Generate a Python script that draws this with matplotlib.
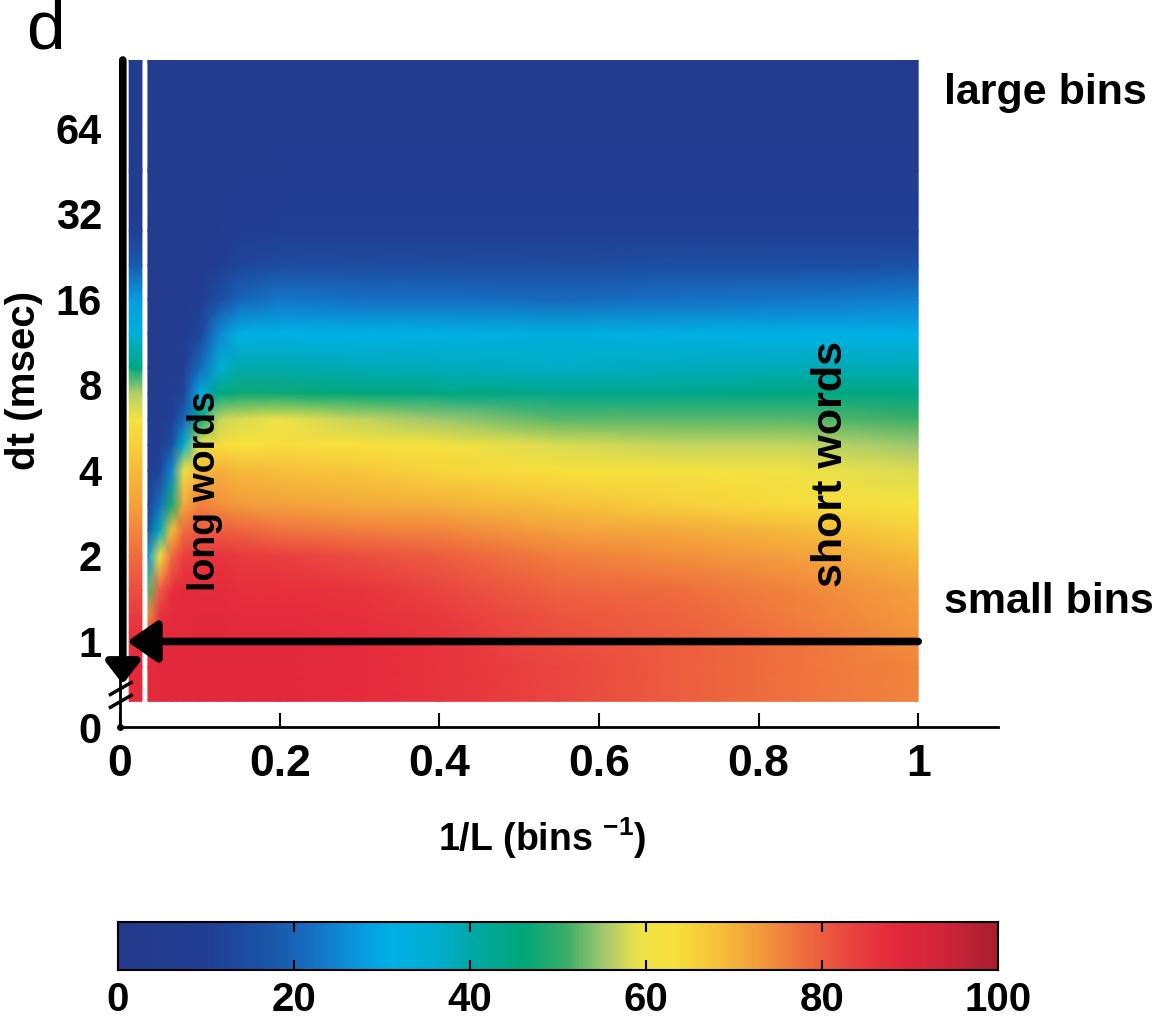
import numpy as np
import matplotlib
matplotlib.use("Agg")
import matplotlib.pyplot as plt
from matplotlib.colors import LinearSegmentedColormap

plt.rcParams['font.family'] = ['Liberation Sans', 'DejaVu Sans']
plt.rcParams['mathtext.fontset'] = 'custom'
plt.rcParams['mathtext.rm'] = 'Liberation Sans:bold'
plt.rcParams['mathtext.bf'] = 'Liberation Sans:bold'
plt.rcParams['mathtext.it'] = 'Liberation Sans:bold'

# ---------------- data ----------------
# rows: log2(dt / msec)
log2_dt = [-0.7, -0.3, 0.0, 0.3, 0.6, 1.0, 1.3, 1.6, 2.0, 2.3, 2.6, 2.9, 3.2, 3.6, 4.0, 4.4, 4.8, 5.5, 6.8]

# extrapolated column at 1/L = 0
strip_values = [88, 88, 87, 85, 82, 78, 75, 72, 69, 66, 62, 56, 45, 34, 28, 18, 10, 6, 4]

# columns: 1/L (bins^-1)
inv_L = [0.035, 0.05, 0.065, 0.08, 0.1, 0.125, 0.15, 0.2, 0.3, 0.4, 0.55, 0.7, 0.85, 1.0]

# one list per 1/L column, values from small dt (bottom) to large dt (top)
col_0035 = [88, 88, 85, 74, 52, 27, 17, 11, 7, 6, 5, 5, 5, 5, 5, 5, 4, 4, 4]
col_005 = [89, 89, 88, 86, 80, 60, 38, 22, 12, 8, 7, 6, 5, 5, 5, 5, 4, 4, 4]
col_0065 = [89, 89, 89, 88, 87, 78, 68, 48, 25, 15, 10, 7, 6, 5, 5, 5, 4, 4, 4]
col_008 = [89, 89, 89, 88, 88, 84, 78, 71, 60, 36, 20, 12, 8, 6, 5, 5, 4, 4, 4]
col_010 = [89, 89, 89, 89, 88, 85, 80, 76, 69, 60, 44, 30, 21, 12, 7, 5, 4, 4, 4]
col_0125 = [89, 89, 89, 89, 88, 86, 80, 74, 70, 64, 57, 45, 35, 25, 15, 9, 6, 4, 4]
col_015 = [89, 89, 89, 88, 87, 85, 79, 73, 69, 63, 58, 47, 40, 31, 20, 12, 8, 5, 4]
col_020 = [89, 89, 89, 88, 87, 84, 77, 72, 68, 64, 59, 47, 40, 31, 23, 14, 9, 6, 4]
col_030 = [88, 88, 88, 87, 86, 82, 76, 71, 67, 63, 57, 46, 39, 31, 22, 14, 9, 6, 4]
col_040 = [86, 86, 86, 85, 83, 80, 75, 70, 65, 62, 55, 45, 38, 32, 22, 14, 9, 6, 4]
col_055 = [83, 83, 82, 81, 79, 76, 72, 68, 63, 58, 52, 44, 37, 33, 21, 14, 9, 6, 4]
col_070 = [80, 80, 80, 79, 78, 74, 71, 66, 62, 57, 52, 44, 38, 32, 22, 15, 9, 6, 4]
col_085 = [77, 77, 77, 76, 75, 72, 69, 64, 60, 57, 52, 45, 39, 31, 23, 15, 10, 6, 4]
col_100 = [75, 75, 74, 73, 72, 69, 66, 62, 58, 55, 51, 45, 39, 31, 24, 16, 10, 6, 4]

columns = [col_0035, col_005, col_0065, col_008, col_010, col_0125, col_015,
           col_020, col_030, col_040, col_055, col_070, col_085, col_100]

y_tick_pos = [-1, 0, 1, 2, 3, 4, 5, 6]
y_tick_labels = ['0', '1', '2', '4', '8', '16', '32', '64']
x_ticks = [0, 0.2, 0.4, 0.6, 0.8, 1]
x_tick_labels = ['0', '0.2', '0.4', '0.6', '0.8', '1']
cbar_ticks = [0, 20, 40, 60, 80, 100]

# ---------------- colormap ----------------
stops = [
    (0, '#243a8c'), (10, '#213f95'), (17, '#1a55a8'), (22, '#1670c4'),
    (27, '#0a98dc'), (31, '#00b0e6'), (36, '#00aed0'), (41, '#00a8a0'),
    (46, '#00a77a'), (51, '#3cae68'), (55, '#a0c870'), (59, '#ece24a'),
    (63, '#f8e23c'), (68, '#f6c23a'), (73, '#f39a3c'), (78, '#ef6c3e'),
    (83, '#ea4640'), (88, '#e62a3c'), (94, '#d0243a'), (100, '#a81e30'),
]
cmap = LinearSegmentedColormap.from_list('jetlike', [(v / 100, c) for v, c in stops])

# ---------------- figure ----------------
W, H = 1153, 1022
fig = plt.figure(figsize=(W / 100, H / 100), dpi=100)

def fx(px):
    return px / W

def fy(py):
    return 1 - py / H

ax = fig.add_axes([fx(120), fy(727), fx(998) - fx(120), fy(60) - fy(727)])
ax.set_xlim(0, 1.1)
ax.set_ylim(-1, 6.8)

Z = np.array(columns).T
X, Y = np.meshgrid(inv_L, log2_dt)
ax.pcolormesh(X, Y, Z, cmap=cmap, vmin=0, vmax=100, shading='gouraud', zorder=1)

# strip at 1/L = 0
strip_x = [0.0115, 0.0275]
SZ = np.array([strip_values, strip_values]).T
SX, SY = np.meshgrid(strip_x, log2_dt)
ax.pcolormesh(SX, SY, SZ, cmap=cmap, vmin=0, vmax=100, shading='gouraud', zorder=1)

for s in ['top', 'right']:
    ax.spines[s].set_visible(False)
ax.spines['left'].set_linewidth(2)
ax.spines['bottom'].set_linewidth(2)
ax.spines['left'].set_zorder(3)

ax.set_xticks(x_ticks)
ax.set_xticklabels(x_tick_labels)
ax.set_yticks(y_tick_pos)
ax.set_yticklabels(y_tick_labels)
ax.tick_params(axis='x', direction='in', length=10, width=1.5, pad=12, labelsize=32)
ax.tick_params(axis='y', direction='in', length=0, width=1.5, pad=13, labelsize=30)
for lab in ax.get_xticklabels() + ax.get_yticklabels():
    lab.set_fontweight('bold')

# thick vertical arrow down the left edge
ax.annotate('', xy=(0.0035, -0.5), xytext=(0.0035, 6.8),
            arrowprops=dict(arrowstyle='-|>,head_length=1.3,head_width=1.0',
                            lw=5.5, color='black', shrinkA=0, shrinkB=0),
            zorder=5, annotation_clip=False)
# thick horizontal arrow at dt = 1
ax.annotate('', xy=(0.009, 0), xytext=(1.0, 0),
            arrowprops=dict(arrowstyle='-|>,head_length=1.8,head_width=1.25',
                            lw=5.5, color='black', shrinkA=0, shrinkB=0),
            zorder=5, annotation_clip=False)

# axis break marks
for yb in (-0.55, -0.7):
    ax.plot([-0.012, 0.014], [yb - 0.07, yb + 0.07], color='black', lw=2.5,
            zorder=6, clip_on=False)
ax.plot([0], [-1], marker='o', ms=4, color='black', clip_on=False, zorder=6)

# texts
bold = dict(fontweight='bold', color='black')
ax.text(0.106, 1.76, 'long words', rotation=90, ha='center', va='center', fontsize=27, zorder=6, **bold)
ax.text(0.891, 2.07, 'short words', rotation=90, ha='center', va='center', fontsize=31, zorder=6, **bold)
fig.text(fx(944), fy(93), 'large bins', ha='left', va='center', fontsize=31, **bold)
fig.text(fx(944), fy(602), 'small bins', ha='left', va='center', fontsize=31, **bold)
fig.text(fx(24), fy(380), 'dt (msec)', rotation=90, ha='center', va='center', fontsize=29, **bold)
fig.text(fx(542), fy(838), r'1/L (bins $^{\mathbf{-1}}$)', ha='center', va='center', fontsize=27, **bold)
fig.text(fx(45), fy(30), 'd', ha='center', va='center', fontsize=50, color='black')

# colorbar
cax = fig.add_axes([fx(118), fy(970), fx(998) - fx(118), fy(922) - fy(970)])
grad = np.linspace(0, 100, 512).reshape(1, -1)
cax.imshow(grad, cmap=cmap, vmin=0, vmax=100, aspect='auto', extent=[0, 100, 0, 1])
cax.set_xlim(0, 100)
cax.set_ylim(0, 1)
cax.set_yticks([])
cax.set_xticks(cbar_ticks)
cax.set_xticklabels([])
cax.tick_params(axis='x', direction='in', length=7, width=1.5, top=True, bottom=True)
for t in cbar_ticks:
    cax.text(t, -0.85, str(t), transform=cax.get_xaxis_transform(), ha='center',
             va='baseline', fontsize=29, fontweight='bold')
for s in cax.spines.values():
    s.set_linewidth(1.5)

fig.savefig('out.png', dpi=100)
